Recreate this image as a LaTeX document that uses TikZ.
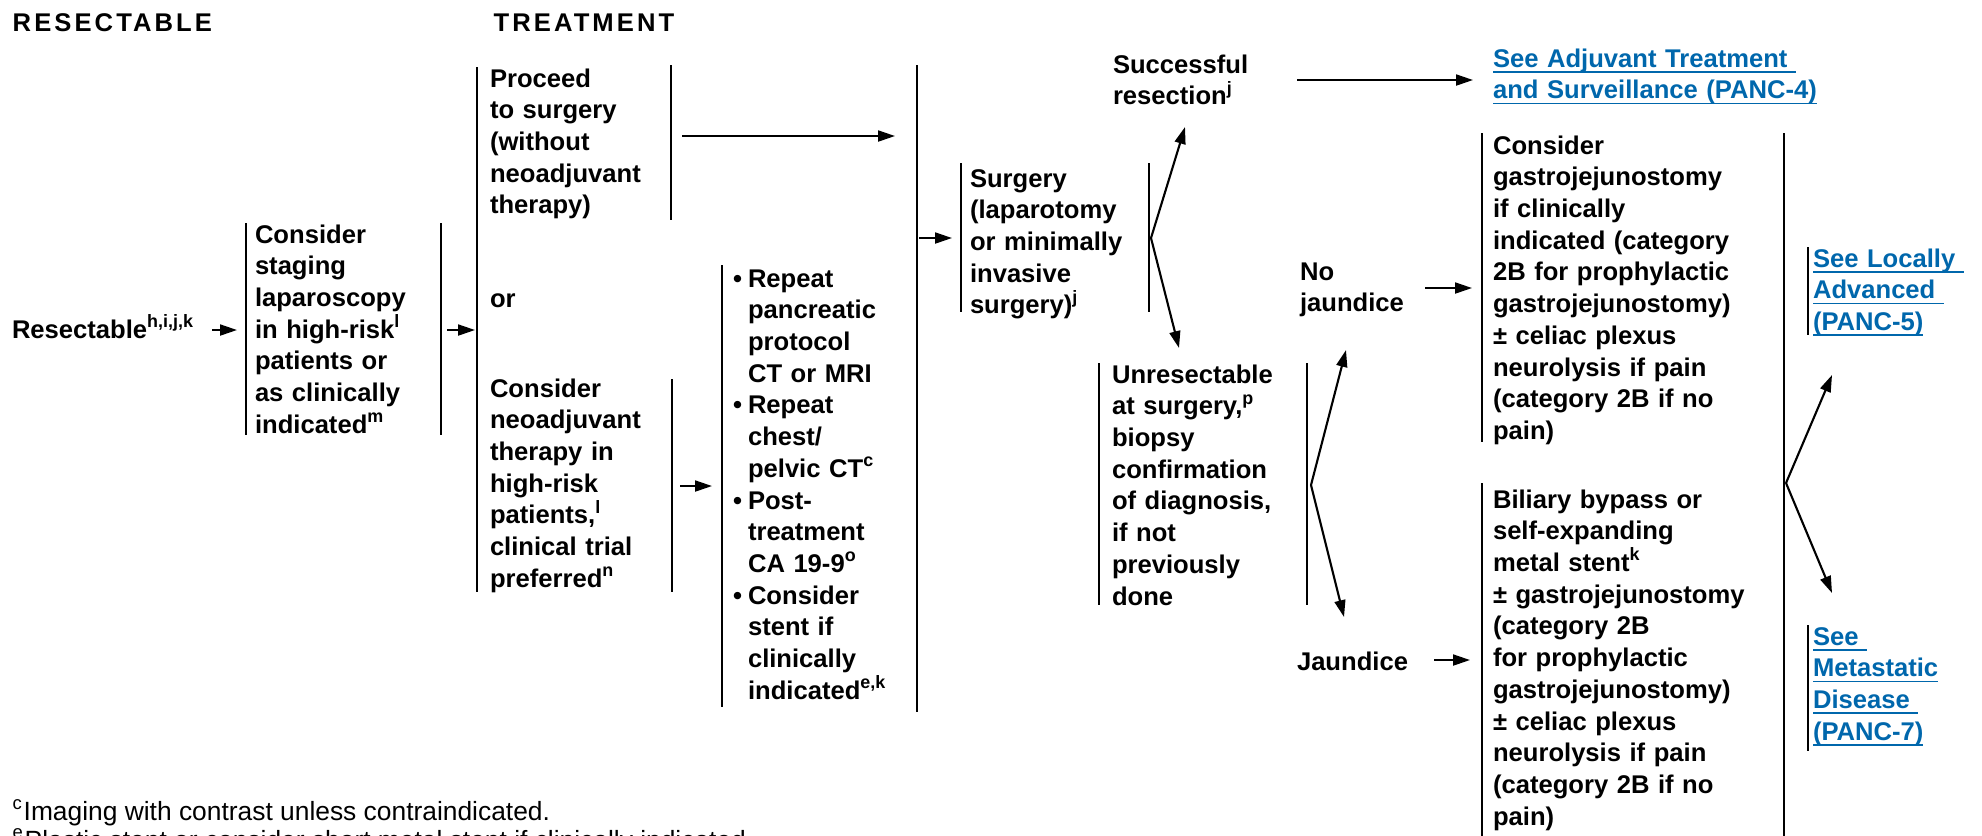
\documentclass[tikz,border=0pt]{standalone}
\usepackage{fontspec}
\setmainfont{Liberation Sans}
\usetikzlibrary{calc,positioning,arrows.meta}
\definecolor{pclink}{RGB}{0,103,172}
\newcommand{\pcul}[1]{\leavevmode{\setbox0\hbox{#1}\rlap{\rule[-1.6pt]{\wd0}{0.5pt}}\box0}}
\newcommand{\pcbul}{\leavevmode\makebox[0.15cm][l]{\textbullet}}
\newcommand{\pcind}{\leavevmode\hspace*{0.15cm}}
\tikzset{
 pc text/.style={font=\bfseries\fontsize{7.28}{9.02}\selectfont,align=left,
                 inner sep=0pt,outer sep=0pt,anchor=base west,text width=#1},
 pc text/.default=1.8cm,
 pc head/.style={font=\bfseries\fontsize{7.28}{9.02}\selectfont\addfontfeatures{LetterSpace=12},
                 inner sep=0pt,anchor=base west},
 pc link/.style={pc text=#1,text=pclink},
 pc foot/.style={font=\fontsize{7.5}{8.2}\selectfont,inner sep=0pt,anchor=base west},
 pc bar/.style={line width=.6pt},
 pc arrow/.style={line width=.6pt,-{Triangle[length=4.8pt,width=3.1pt]}}
}
\begin{document}
\begin{tikzpicture}[x=0.01cm,y=-0.01cm]
 \useasboundingbox (0,0) rectangle (1982,835);
 % headings
 \node[pc head] (hres) at (12,31) {RESECTABLE};
 \node[pc head] (htrt) at (493,31) {TREATMENT};
 % first columns
 \node[pc text=2.2cm] (resect) at (12,338) {Resectable\textsuperscript{h,i,j,k}};
 \node[pc text=1.84cm] (stage) at (255,243) {Consider\\staging\\laparoscopy\\in high-risk\textsuperscript{l}\\patients or\\as clinically\\indicated\textsuperscript{m}};
 \node[pc text=1.78cm] (proceed) at (490,87) {Proceed\\to surgery\\(without\\neoadjuvant\\therapy)};
 \node[pc text] (or) at (490,307) {or};
 \node[pc text=1.78cm] (neoadj) at (490,397) {Consider\\neoadjuvant\\therapy in\\high-risk\\patients,\textsuperscript{l}\\clinical trial\\preferred\textsuperscript{n}};
 \node[pc text=1.82cm] (repeat) at (733,287) {\pcbul Repeat\\\pcind pancreatic\\\pcind protocol\\\pcind CT or MRI\\
   \pcbul Repeat\\\pcind chest/\\\pcind pelvic CT\textsuperscript{c}\\\pcbul Post-\\\pcind treatment\\\pcind CA 19-9\textsuperscript{o}\\
   \pcbul Consider\\\pcind stent if\\\pcind clinically\\\pcind indicated\textsuperscript{e,k}};
 % surgery
 \node[pc text=1.78cm] (surgery) at (970,187) {Surgery\\(laparotomy\\or minimally\\invasive\\surgery)\textsuperscript{j}};
 \node[pc text] (success) at (1113,73) {Successful\\resection\textsuperscript{j}};
 \node[pc text=1.92cm] (unres) at (1112,383) {Unresectable\\at surgery,\textsuperscript{p}\\biopsy\\confirmation\\of diagnosis,\\if not\\previously\\done};
 \node[pc text=1.2cm] (nojaund) at (1300,280) {No\\jaundice};
 \node[pc text=1.3cm] (jaund) at (1297,670) {Jaundice};
 \node[pc text=2.88cm] (gastro) at (1493,154) {Consider\\gastrojejunostomy\\if clinically\\indicated (category\\2B for prophylactic\\gastrojejunostomy)\\± celiac plexus\\neurolysis if pain\\(category 2B if no\\pain)};
 \node[pc text=2.88cm] (biliary) at (1493,508) {Biliary bypass or\\self-expanding\\metal stent\textsuperscript{k}\\± gastrojejunostomy\\(category 2B\\for prophylactic\\gastrojejunostomy)\\± celiac plexus\\neurolysis if pain\\(category 2B if no\\pain)};
 % links
 \node[pc link=4.5cm] (adjuv) at (1493,67) {\pcul{See Adjuvant Treatment\ }\\\pcul{and Surveillance (PANC-4)}};
 \node[pc link=1.69cm] (locad) at (1813,267) {\pcul{See Locally\ }\\\pcul{Advanced\ }\\\pcul{(PANC-5)}};
 \node[pc link=1.69cm] (metas) at (1813,645) {\pcul{See\ }\\\pcul{Metastatic}\\\pcul{Disease\ }\\\pcul{(PANC-7)}};
 % footnotes
 \node[pc foot] (fnc) at (12,820) {\textsuperscript{c}Imaging with contrast unless contraindicated.};
 \node[pc foot] (fne) at (12,849) {\textsuperscript{e}Plastic stent or consider short metal stent if clinically indicated.};
 % bars
 \foreach \x/\a/\b in {246/223/435,441/223/435,477/67/592,671/65/220,672/379/592,
                       722/265/707,917/65/712,961/163/312,1149/163/312,1099/363/605,
                       1307/363/605,1482/133/442,1482/483/840,1784/133/840,
                       1808/247/335,1808/625/751}
   \draw[pc bar] (\x,\a) -- (\x,\b);
 % arrow ends
 \coordinate (rsOut) at (212,330);   \coordinate (stIn) at (237,330);
 \coordinate (stOut) at (447,330);   \coordinate (trIn) at (475,330);
 \coordinate (prOut) at (682,136);   \coordinate (prIn) at (895,136);
 \coordinate (naOut) at (680,486);   \coordinate (rpIn) at (712,486);
 \coordinate (trOut) at (919,238);   \coordinate (suIn) at (952,238);
 \coordinate (suOut) at (1151,238);  \coordinate (okIn) at (1185,127);
 \coordinate (unIn) at (1179,348);
 \coordinate (okOut) at (1297,80);   \coordinate (adIn) at (1473,80);
 \coordinate (unOut) at (1311,485);  \coordinate (njIn) at (1346,350);
 \coordinate (jaIn) at (1344,617);
 \coordinate (njOut) at (1425,288);  \coordinate (gjIn) at (1472,288);
 \coordinate (jaOut) at (1434,660);  \coordinate (biIn) at (1470,660);
 \coordinate (rtOut) at (1786,483);  \coordinate (laIn) at (1832,375);
 \coordinate (meIn) at (1832,593);
 \foreach \s/\t in {rsOut/stIn,stOut/trIn,prOut/prIn,naOut/rpIn,trOut/suIn,
                    suOut/okIn,suOut/unIn,okOut/adIn,unOut/njIn,unOut/jaIn,
                    njOut/gjIn,jaOut/biIn,rtOut/laIn,rtOut/meIn}
   \draw[pc arrow] (\s) -- (\t);
\end{tikzpicture}
\end{document}
